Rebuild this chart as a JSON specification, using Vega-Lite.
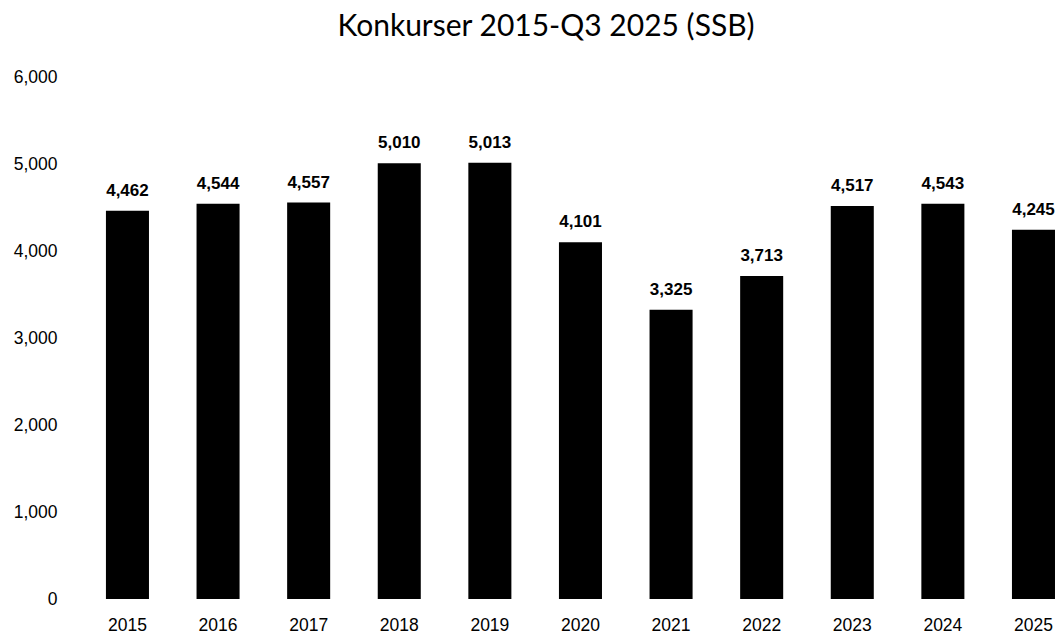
{
  "$schema": "https://vega.github.io/schema/vega-lite/v6.json",
  "autosize": "none",
  "width": 992,
  "height": 522,
  "padding": {"left": 66, "top": 77, "right": 0, "bottom": 35},
  "background": "white",
  "title": {
    "text": "Konkurser 2015-Q3 2025 (SSB)",
    "font": "Lato",
    "fontSize": 30,
    "fontWeight": "normal",
    "color": "black",
    "anchor": "middle",
    "frame": "group",
    "dx": -16,
    "offset": 26
  },
  "data": {
    "values": [
      {"year": "2015", "count": 4462},
      {"year": "2016", "count": 4544},
      {"year": "2017", "count": 4557},
      {"year": "2018", "count": 5010},
      {"year": "2019", "count": 5013},
      {"year": "2020", "count": 4101},
      {"year": "2021", "count": 3325},
      {"year": "2022", "count": 3713},
      {"year": "2023", "count": 4517},
      {"year": "2024", "count": 4543},
      {"year": "2025", "count": 4245}
    ]
  },
  "encoding": {
    "x": {
      "field": "year",
      "type": "nominal",
      "sort": null,
      "scale": {"paddingInner": 0.525, "paddingOuter": 0.237, "align": 0.93},
      "axis": {
        "title": null,
        "labelAngle": 0,
        "domain": false,
        "ticks": false,
        "labelFont": "Liberation Sans",
        "labelFontSize": 17.5,
        "labelColor": "black",
        "labelPadding": 17
      }
    },
    "y": {
      "field": "count",
      "type": "quantitative",
      "scale": {"domain": [0, 6000]},
      "axis": {
        "title": null,
        "values": [0, 1000, 2000, 3000, 4000, 5000, 6000],
        "format": ",d",
        "grid": false,
        "domain": false,
        "ticks": false,
        "labelFont": "Liberation Sans",
        "labelFontSize": 17.5,
        "labelColor": "black",
        "labelPadding": 9
      }
    }
  },
  "layer": [
    {"mark": {"type": "bar", "color": "black"}},
    {
      "mark": {
        "type": "text",
        "baseline": "bottom",
        "dy": -11,
        "font": "Liberation Sans",
        "fontSize": 17,
        "fontWeight": "bold",
        "color": "black"
      },
      "encoding": {"text": {"field": "count", "type": "quantitative", "format": ","}}
    }
  ],
  "config": {"view": {"stroke": null}}
}
